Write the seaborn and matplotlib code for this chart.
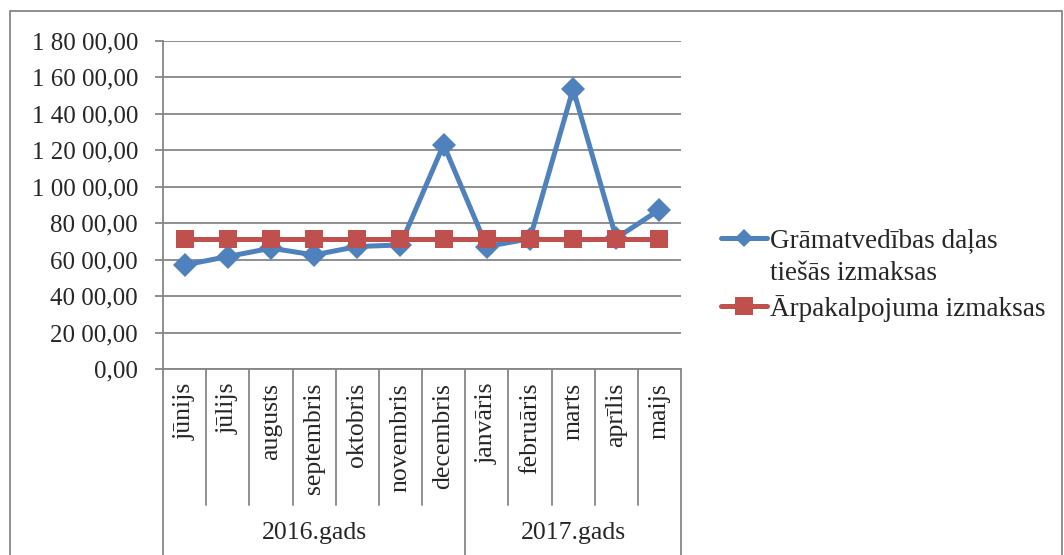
import seaborn as sns
import numpy as np
import matplotlib.pyplot as plt
import pandas as pd
from matplotlib.lines import Line2D
from matplotlib.patches import Rectangle
from matplotlib.ticker import FuncFormatter

months = ["jūnijs", "jūlijs", "augusts", "septembris", "oktobris", "novembris",
          "decembris", "janvāris", "februāris", "marts", "aprīlis", "maijs"]
years = ["2016.gads", "2017.gads"]
months_per_year = [7, 5]
direct_costs = [5710, 6170, 6630, 6260, 6720, 6810, 12310, 6720, 7150, 15370, 7180, 8740]
outsourcing_costs = [7120] * 12
series_names = ["Grāmatvedības daļas tiešās izmaksas", "Ārpakalpojuma izmaksas"]

GRID = "#868686"
BLUE = "#4F81BD"
RED = "#C0504D"

def pair_format(v, pos):
    s = str(int(round(v)))
    groups = []
    while len(s) > 2:
        groups.insert(0, s[-2:])
        s = s[:-2]
    groups.insert(0, s)
    return " ".join(groups) + ",00"

sns.set_theme(style="white")
plt.rcParams['font.family'] = ['Liberation Serif', 'DejaVu Serif']
fs = 18

df = pd.DataFrame({
    "pos": list(range(len(months))) * 2,
    "value": direct_costs + outsourcing_costs,
    "series": [series_names[0]] * len(months) + [series_names[1]] * len(months),
})

fig = plt.figure(figsize=(10.64, 5.55), dpi=100)
ax = fig.add_axes([163 / 1064, 1 - 369 / 555, (681 - 163) / 1064, (369 - 41) / 555])

sns.lineplot(data=df, x="pos", y="value", hue="series", style="series",
             markers={series_names[0]: "D", series_names[1]: "s"}, dashes=False,
             palette={series_names[0]: BLUE, series_names[1]: RED},
             linewidth=3.6, markersize=12.5, markeredgewidth=0, ax=ax, zorder=3,
             legend=False)

ax.set_xlim(-0.5, len(months) - 0.5)
ax.set_ylim(0, 18000)
ax.set_yticks(np.arange(0, 18001, 2000))
ax.yaxis.set_major_formatter(FuncFormatter(pair_format))
ax.grid(axis="y", color=GRID, linewidth=1.3)
ax.grid(axis="x", visible=False)
for side in ["top", "right"]:
    ax.spines[side].set_visible(False)
for side in ["left", "bottom"]:
    ax.spines[side].set_color(GRID)
    ax.spines[side].set_linewidth(1.3)
ax.tick_params(axis="y", left=True, length=6, width=1.3, color=GRID, labelsize=fs, pad=12)
ax.set_xticks(range(len(months)))
ax.set_xticklabels(months, rotation=90, fontsize=fs + 0.5, va="top")
ax.tick_params(axis="x", bottom=False, pad=4)
ax.set_xlabel("")
ax.set_ylabel("")

# category separators below the axis
month_bottom = -(505 - 369) / (369 - 41)
year_bottom = -(570 - 369) / (369 - 41)
trans = ax.get_xaxis_transform()
year_edges = np.cumsum([0] + months_per_year) - 0.5
for b in np.arange(len(months) + 1) - 0.5:
    y0 = year_bottom if b in year_edges else month_bottom
    ax.plot([b, b], [0, y0], color=GRID, lw=1.3, transform=trans, clip_on=False)
for i, yr in enumerate(years):
    cx = (year_edges[i] + year_edges[i + 1]) / 2
    ax.text(cx, -(533 - 369) / (369 - 41), yr, transform=trans, ha="center", va="center", fontsize=fs + 0.5)

# legend: first label wraps onto a second line, handle sits on the first line
h_blue = Line2D([], [], color=BLUE, lw=3.6, marker="D", markersize=9, markeredgewidth=0)
h_blank = Line2D([], [], color="none")
h_red = Line2D([], [], color=RED, lw=3.6, marker="s", markersize=12.5, markeredgewidth=0)
ax.legend([h_blue, h_blank, h_red],
          ["Grāmatvedības daļas", "tiešās izmaksas", "Ārpakalpojuma izmaksas"],
          loc="upper left", bbox_to_anchor=(697 / 1064, 1 - 204 / 555),
          bbox_transform=fig.transFigure, frameon=False, fontsize=19.5,
          handlelength=1.7, handletextpad=0.1, labelspacing=0.3)

fig.patches.append(Rectangle((10 / 1064, -0.05), (1062 - 10) / 1064, 1.05 - 11 / 555,
                             transform=fig.transFigure, fill=False, edgecolor=GRID, lw=1.3))

fig.savefig("out.png", dpi=100)
